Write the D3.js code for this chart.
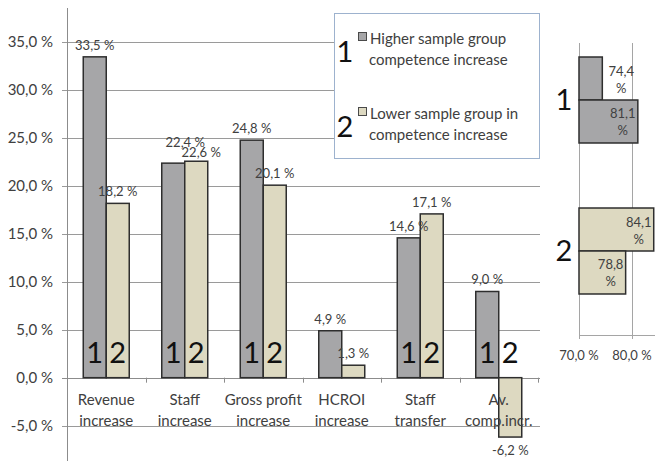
<!DOCTYPE html>
<html>
<head>
<meta charset="utf-8">
<script src="https://cdn.jsdelivr.net/npm/d3@7"></script>
<style>
  body { margin: 0; background: #fff; }
  svg { display: block; font-family: Lato, "Liberation Sans", sans-serif; }
  .tick-label, .cat-label, .value-label, .legend-text { fill: #404040; }
  .big-num { fill: #111; font-size: 29px; }
</style>
</head>
<body>
<div id="chart"></div>
<script>
// DATA
var categories = ["Revenue\nincrease", "Staff\nincrease", "Gross profit\nincrease", "HCROI\nincrease", "Staff\ntransfer", "Av.\ncomp.incr."]
var higherGroup = [33.5, 22.4, 24.8, 4.9, 14.6, 9.0]
var lowerGroup = [18.2, 22.6, 20.1, 1.3, 17.1, -6.2]
var yTicks = [-5, 0, 5, 10, 15, 20, 25, 30, 35]

var seriesNames = ["1", "2"]
var legendLabels = [["Higher sample group", "competence increase"], ["Lower sample group in", "competence increase"]]

var sideGroups = ["1", "2"]
var sideFirst = [74.4, 84.1]
var sideSecond = [81.1, 78.8]
var sideTicks = [70, 80]

var colors = ["#a6a6a8", "#ddd9c1"]
var num = function(v) { return d3.format(".1f")(v).replace(".", ",").replace("\u2212", "-") }
var fmt = function(v) { return num(v) + " %" }

var svg = d3.select("#chart").append("svg")
    .attr("width", 655)
    .attr("height", 461)

// MAIN CHART SCALES
var yScale = d3.scaleLinear().domain([-8.7, 38.6]).range([461, 8])
var xScale = d3.scaleBand().domain(categories).range([67, 538])
var xSub = d3.scaleBand().domain(seriesNames).range([0, xScale.bandwidth()]).paddingInner(0).paddingOuter(0.707)
var y0 = yScale(0)

// gridlines
svg.append("g").selectAll("line")
    .data(yTicks)
    .enter().append("line")
    .attr("x1", 62).attr("x2", 540)
    .attr("y1", function(d) { return Math.round(yScale(d)) + 0.5 })
    .attr("y2", function(d) { return Math.round(yScale(d)) + 0.5 })
    .attr("stroke", function(d) { return d === 0 ? "#8c8c8c" : "#9a9a9a" })
    .attr("stroke-width", 1)

svg.append("g").selectAll("text")
    .data(yTicks)
    .enter().append("text")
    .attr("class", "tick-label")
    .attr("x", 53)
    .attr("y", function(d) { return yScale(d) + 5 })
    .attr("text-anchor", "end")
    .attr("font-size", 15)
    .text(function(d) { return fmt(d) })

// y axis line
svg.append("line")
    .attr("x1", 67.5).attr("x2", 67.5).attr("y1", 8).attr("y2", 461)
    .attr("stroke", "#8c8c8c")

// x axis ticks between categories
svg.append("g").selectAll("line")
    .data(categories)
    .enter().append("line")
    .attr("x1", function(d) { return Math.round(xScale(d) + xScale.bandwidth()) + 0.5 })
    .attr("x2", function(d) { return Math.round(xScale(d) + xScale.bandwidth()) + 0.5 })
    .attr("y1", y0).attr("y2", y0 + 5)
    .attr("stroke", "#8c8c8c")

// bars
var rows = categories.map(function(c, i) {
  return [{cat: c, s: "1", v: higherGroup[i], i: 0, r: i}, {cat: c, s: "2", v: lowerGroup[i], i: 1, r: i}]
})
var flat = d3.merge(rows)

svg.append("g").selectAll("rect")
    .data(flat)
    .enter().append("rect")
    .attr("x", function(d) { return xScale(d.cat) + xSub(d.s) })
    .attr("y", function(d) { return Math.min(yScale(d.v), y0) })
    .attr("width", xSub.bandwidth())
    .attr("height", function(d) { return Math.abs(yScale(d.v) - y0) })
    .attr("fill", function(d) { return colors[d.i] })
    .attr("stroke", "#2e2e2e")
    .attr("stroke-width", 1.5)

// value labels (stagger when both bars are almost equal)
function isNear(d) {
  var r = rows[d.r]
  return Math.abs(r[0].v - r[1].v) < 1.5
}

svg.append("g").selectAll("text")
    .data(flat)
    .enter().append("text")
    .attr("class", "value-label")
    .attr("font-size", 13)
    .attr("text-anchor", "middle")
    .attr("x", function(d) {
      var shift = isNear(d) ? (d.i === 0 ? 12 : 5) : 0
      return xScale(d.cat) + xSub(d.s) + xSub.bandwidth() / 2 + shift
    })
    .attr("y", function(d) {
      if (d.v < 0) return yScale(d.v) + 18
      if (isNear(d)) return yScale(d.v) - (d.i === 0 ? 16 : 4)
      return yScale(d.v) - 7
    })
    .text(function(d) { return fmt(d.v) })

// big series numbers in bars, only where the taller bar has room
svg.append("g").selectAll("text")
    .data(flat.filter(function(d) { return Math.max(rows[d.r][0].v, rows[d.r][1].v) > 6 }))
    .enter().append("text")
    .attr("class", "big-num")
    .attr("text-anchor", "middle")
    .attr("x", function(d) { return xScale(d.cat) + xSub(d.s) + xSub.bandwidth() / 2 })
    .attr("y", y0 - 15)
    .text(function(d) { return d.s })

// category labels
var catLabels = svg.append("g").selectAll("text")
    .data(categories)
    .enter().append("text")
    .attr("class", "cat-label")
    .attr("font-size", 15)
    .attr("text-anchor", "middle")

catLabels.selectAll("tspan")
    .data(function(d) { return d.split("\n").map(function(t) { return {t: t, c: d} }) })
    .enter().append("tspan")
    .attr("x", function(d) { return xScale(d.c) + xScale.bandwidth() / 2 })
    .attr("y", function(d, j) { return y0 + 27 + j * 21 })
    .text(function(d) { return d.t })

// LEGEND
var legend = svg.append("g")
legend.append("rect")
    .attr("x", 334.5).attr("y", 13.5).attr("width", 205).attr("height", 145)
    .attr("fill", "#fff").attr("stroke", "#9db2ce")

var items = legend.selectAll("g")
    .data(seriesNames)
    .enter().append("g")
    .attr("transform", function(d, i) { return "translate(0," + (i * 75) + ")" })

items.append("text")
    .attr("class", "big-num")
    .attr("x", 345).attr("y", 62)
    .attr("text-anchor", "middle")
    .text(function(d) { return d })

items.append("rect")
    .attr("x", 358.5).attr("y", 32.5).attr("width", 8).attr("height", 8)
    .attr("fill", function(d, i) { return colors[i] })
    .attr("stroke", "#4a4a4a")

items.selectAll("text.legend-text")
    .data(function(d, i) { return legendLabels[i] })
    .enter().append("text")
    .attr("class", "legend-text")
    .attr("font-size", 15)
    .attr("x", function(d, j) { return j === 0 ? 370 : 369 })
    .attr("y", function(d, j) { return 44 + j * 21 })
    .text(function(d) { return d })

// SIDE CHART
var sx = d3.scaleLinear().domain([70, 85]).range([579, 658.5])
var sy = d3.scaleBand().domain(sideGroups).range([24.5, 326.5])
var sySub = d3.scaleBand().domain([0, 1]).range([0, sy.bandwidth()]).paddingInner(0).paddingOuter(0.756)

svg.append("g").selectAll("line")
    .data(sideTicks)
    .enter().append("line")
    .attr("x1", function(d) { return Math.round(sx(d)) + 0.5 })
    .attr("x2", function(d) { return Math.round(sx(d)) + 0.5 })
    .attr("y1", 43).attr("y2", 339)
    .attr("stroke", "#a5a5a5")

svg.append("line")
    .attr("x1", sx(70)).attr("x2", 655).attr("y1", 335.5).attr("y2", 335.5)
    .attr("stroke", "#a5a5a5")

svg.append("g").selectAll("text")
    .data(sideTicks)
    .enter().append("text")
    .attr("class", "tick-label")
    .attr("font-size", 13)
    .attr("text-anchor", "middle")
    .attr("x", function(d) { return sx(d) })
    .attr("y", 360)
    .text(function(d) { return fmt(d) })

var sideData = []
sideGroups.forEach(function(g, i) {
  sideData.push({g: g, k: 0, v: sideFirst[i], c: i})
  sideData.push({g: g, k: 1, v: sideSecond[i], c: i})
})

svg.append("g").selectAll("rect")
    .data(sideData)
    .enter().append("rect")
    .attr("x", sx(70))
    .attr("y", function(d) { return sy(d.g) + sySub(d.k) })
    .attr("width", function(d) { return sx(d.v) - sx(70) })
    .attr("height", sySub.bandwidth())
    .attr("fill", function(d) { return colors[d.c] })
    .attr("stroke", "#2e2e2e")
    .attr("stroke-width", 1.5)

var sideLabels = svg.append("g").selectAll("text")
    .data(sideData)
    .enter().append("text")
    .attr("class", "value-label")
    .attr("font-size", 13)
    .attr("text-anchor", "middle")

sideLabels.selectAll("tspan")
    .data(function(d) { return [num(d.v), "%"].map(function(t) { return {t: t, d: d} }) })
    .enter().append("tspan")
    .attr("x", function(o) {
      var w = sx(o.d.v) - sx(70)
      return w < 35 ? sx(o.d.v) + 19 : sx(o.d.v) - 15
    })
    .attr("y", function(o, j) { return sy(o.d.g) + sySub(o.d.k) + sySub.bandwidth() / 2 - 3 + j * 17 })
    .text(function(o) { return o.t })

svg.append("g").selectAll("text")
    .data(sideGroups)
    .enter().append("text")
    .attr("class", "big-num")
    .attr("text-anchor", "middle")
    .attr("x", 564)
    .attr("y", function(d) { return sy(d) + sy.bandwidth() / 2 + 10 })
    .text(function(d) { return d })
</script>
</body>
</html>
